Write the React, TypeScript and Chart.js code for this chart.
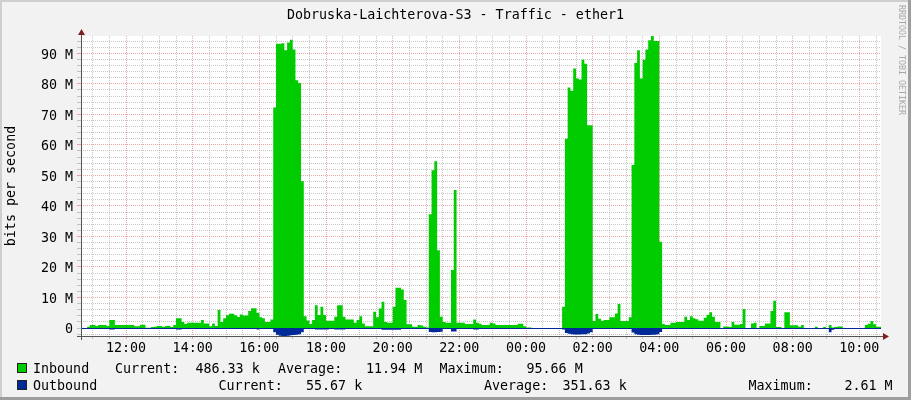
import { useEffect, useRef } from "react";
import { Chart, registerables } from "chart.js";

Chart.register(...registerables);

// ---------- text ----------
const TITLE = "Dobruska-Laichterova-S3 - Traffic - ether1";
const Y_TITLE = "bits per second";
const WATERMARK = "RRDTOOL / TOBI OETIKER";
const SERIES_NAMES = ["Inbound", "Outbound"];
const STAT_LABELS = ["Current:", "Average:", "Maximum:"];
const INBOUND_STATS = ["486.33 k", "11.94 M", "95.66 M"];
const OUTBOUND_STATS = ["55.67 k", "351.63 k", "2.61 M"];

// ---------- time axis (hours; 24 = midnight) ----------
const FIRST_SAMPLE_HOUR = 10 + 40 / 60; // 10:40
const SAMPLE_STEP_HOURS = 5 / 60; // 5-minute samples
const AXIS_MIN_HOUR = 10 + 39 / 60;
const AXIS_MAX_HOUR = AXIS_MIN_HOUR + 24;

// ---------- value axis (M bits/s) ----------
const Y_MIN = -2.61;
const Y_MAX = 95.66;

// Inbound traffic, M bits/s, one value per 5 minutes (12 per row = 1 hour)
const INBOUND_M = [
  0, 0, 0, 0.4, 1.0, 1.0, 0.7, 1.0, 1.0, 1.0, 0.7, 2.6,
  2.6, 1.0, 1.0, 1.0, 1.0, 1.0, 1.0, 1.0, 0.6, 0.6, 1.1, 1.1,
  0.1, 0.1, 0.3, 0.4, 0.7, 0.7, 0.4, 0.7, 0.7, 0.3, 1.0, 3.2,
  3.2, 2.0, 1.3, 1.7, 1.7, 1.7, 1.7, 1.7, 2.6, 1.5, 1.5, 0.6,
  1.5, 0.7, 5.9, 2.0, 3.2, 4.2, 4.7, 4.7, 4.2, 3.6, 4.4, 4.1,
  4.1, 5.6, 6.5, 6.5, 5.0, 3.5, 3.2, 2.0, 2.0, 2.8, 72.2, 93.1,
  93.1, 93.3, 91.0, 93.5, 94.4, 91.2, 81.2, 80.3, 48.1, 3.9, 2.5, 1.3,
  2.6, 7.5, 4.3, 7.0, 4.3, 2.4, 2.4, 2.4, 3.7, 7.5, 7.5, 3.7,
  2.8, 2.8, 2.8, 1.7, 2.6, 3.9, 1.5, 0.6, 0.6, 0.6, 5.3, 3.5,
  6.4, 8.6, 2.0, 1.7, 1.7, 7.0, 13.2, 13.2, 12.6, 9.2, 1.2, 1.2,
  0.4, 0.4, 1.0, 0.8, 0.4, 0.2, 37.3, 51.7, 54.6, 25.5, 3.7, 2.0,
  1.7, 1.7, 19.0, 45.2, 1.7, 1.7, 1.7, 1.3, 1.3, 1.3, 2.8, 1.7,
  1.4, 1.0, 1.0, 1.0, 1.7, 1.5, 1.0, 1.0, 1.0, 1.0, 1.0, 1.0,
  1.0, 1.0, 1.4, 1.4, 0.6, 0.2, 0.2, 0, 0, 0, 0, 0,
  0, 0, 0, 0, 0, 0, 7.0, 62.0, 78.8, 77.7, 85.0, 81.7,
  81.4, 87.9, 86.6, 66.4, 66.4, 2.3, 4.6, 3.0, 2.4, 2.6, 2.6, 3.5,
  3.5, 4.8, 7.9, 2.3, 2.3, 2.3, 3.5, 53.4, 86.8, 91.0, 81.7, 87.9,
  91.2, 94.3, 95.66, 94.0, 94.0, 28.3, 1.3, 1.0, 1.0, 1.7, 1.7, 2.0,
  2.0, 2.0, 3.7, 2.6, 3.9, 3.2, 2.9, 2.4, 2.4, 3.4, 4.3, 5.2,
  3.7, 2.0, 2.0, 0, 0.5, 0.5, 0.3, 2.0, 1.1, 1.1, 1.3, 6.2,
  0, 0, 1.5, 1.7, 0, 0.7, 0.7, 1.5, 1.5, 5.6, 8.9, 0.3,
  0.3, 0, 5.2, 5.2, 0.9, 0.9, 0.9, 0.4, 1.0, 0, 0, 0,
  0, 0.4, 0, 0, 0.3, 0, 1.0, 0.2, 0.3, 0.5, 0.5, 0,
  0, 0, 0, 0, 0, 0, 0, 1.0, 1.4, 2.3, 1.2, 0.4,
];

// Outbound traffic, M bits/s (drawn below zero), one value per 5 minutes
const OUTBOUND_M = [
  0, 0, 0, 0, 0.1, 0.1, 0.1, 0.1, 0.1, 0.1, 0.1, 0.5,
  0.5, 0.1, 0.1, 0.1, 0.1, 0.1, 0.1, 0.1, 0.1, 0.1, 0.1, 0.1,
  0.1, 0.1, 0.1, 0.1, 0.1, 0.1, 0.1, 0.1, 0.1, 0.1, 0.1, 0.5,
  0.5, 0.1, 0.1, 0.1, 0.1, 0.1, 0.1, 0.1, 0.1, 0.1, 0.1, 0.1,
  0.1, 0.1, 0.1, 0.1, 0.1, 0.1, 0.1, 0.1, 0.1, 0.1, 0.1, 0.1,
  0.1, 0.1, 0.1, 0.1, 0.5, 0.1, 0.1, 0.1, 0.1, 0.1, 1.4, 2.2,
  2.5, 2.6, 2.6, 2.5, 2.4, 2.3, 2.2, 2.0, 1.4, 0.2, 0.1, 0.1,
  0.1, 0.5, 0.5, 0.5, 0.5, 0.5, 0.1, 0.1, 0.5, 0.5, 0.5, 0.5,
  0.1, 0.1, 0.1, 0.1, 0.1, 0.1, 0.1, 0.1, 0.1, 0.1, 0.1, 0.1,
  0.1, 0.6, 0.6, 0.6, 0.6, 0.6, 0.6, 0.6, 0.1, 0.1, 0.1, 0.1,
  0.1, 0.1, 0.1, 0.1, 0.1, 0.1, 1.3, 1.4, 1.4, 1.3, 1.2, 0.2,
  0.2, 0.2, 1.1, 1.1, 0.1, 0.1, 0.1, 0.1, 0.1, 0.1, 0.5, 0.5,
  0.1, 0.1, 0.1, 0.1, 0.1, 0.1, 0.1, 0.1, 0.1, 0.1, 0.1, 0.1,
  0.1, 0.1, 0.1, 0.1, 0.1, 0.1, 0.1, 0.05, 0.05, 0.05, 0.05, 0.05,
  0.05, 0.05, 0.05, 0.05, 0.05, 0.05, 0.5, 1.6, 1.9, 2.0, 2.1, 2.1,
  2.1, 2.0, 2.0, 1.8, 1.4, 0.2, 0.2, 0.2, 0.2, 0.2, 0.2, 0.2,
  0.2, 0.2, 0.2, 0.2, 0.2, 0.2, 0.2, 1.5, 2.0, 2.2, 2.3, 2.3,
  2.3, 2.3, 2.2, 2.2, 2.0, 1.3, 0.3, 0.3, 0.3, 0.3, 0.3, 0.1,
  0.1, 0.1, 0.1, 0.1, 0.1, 0.1, 0.1, 0.1, 0.1, 0.1, 0.1, 0.1,
  0.1, 0.1, 0.1, 0.1, 0.1, 0.1, 0.1, 0.1, 0.1, 0.1, 0.1, 0.1,
  0.1, 0.1, 0.1, 0.1, 0.1, 0.1, 0.1, 0.1, 0.1, 0.1, 0.1, 0.1,
  0.1, 0.1, 0.1, 0.1, 0.1, 0.1, 0.1, 0.1, 0.1, 0.1, 0.1, 0.1,
  0.1, 0.1, 0.1, 0.1, 0.1, 0.1, 1.4, 0.6, 0.1, 0.1, 0.1, 0.1,
  0.1, 0.1, 0.1, 0.1, 0.1, 0.1, 0.1, 0.1, 0.1, 0.1, 0.1, 0.1,
];

// ---------- styles ----------
const FONT = "'DejaVu Sans Mono', monospace";
const FONT_SIZE = 13.33;
const BG = "#F2F2F2";
const GREEN = "#00CC00";
const NAVY = "#002A97";
const MINOR_GRID = "rgba(143,143,143,0.5)";
const MAJOR_GRID = "rgba(222,79,79,0.5)";
const AXIS_COLOR = "#555555";
const ARROW_COLOR = "#801F1F";

function toSteps(vals: number[], sign: number) {
  const pts = vals.map((v, i) => ({ x: FIRST_SAMPLE_HOUR + i * SAMPLE_STEP_HOURS, y: sign * v }));
  pts.push({ x: FIRST_SAMPLE_HOUR + vals.length * SAMPLE_STEP_HOURS, y: sign * vals[vals.length - 1] });
  return pts;
}

const isEvenHour = (v: number) => Math.abs(v - Math.round(v)) < 1e-9 && Math.round(v) % 2 === 0;
const hourLabel = (v: number) => String(Math.round(v) % 24).padStart(2, "0") + ":00";

const frame = {
  id: "rrdFrame",
  beforeDraw(chart: any) {
    const { ctx, chartArea } = chart;
    ctx.save();
    ctx.fillStyle = "#FFFFFF";
    ctx.fillRect(chartArea.left, chartArea.top, chartArea.right - chartArea.left, chartArea.bottom - chartArea.top);
    ctx.restore();
  },
  afterDatasetsDraw(chart: any) {
    const { ctx, chartArea } = chart;
    const { left, right, top, bottom } = chartArea;
    const bx = Math.round(left) + 0.5;
    const by = Math.round(bottom) + 0.5;
    ctx.save();
    ctx.strokeStyle = AXIS_COLOR;
    ctx.lineWidth = 1;
    ctx.beginPath();
    ctx.moveTo(left - 4, by);
    ctx.lineTo(right + 3, by);
    ctx.moveTo(bx, bottom + 4);
    ctx.lineTo(bx, top - 2);
    ctx.stroke();
    ctx.fillStyle = ARROW_COLOR;
    ctx.beginPath();
    ctx.moveTo(right + 2, by - 3.5);
    ctx.lineTo(right + 8, by);
    ctx.lineTo(right + 2, by + 3.5);
    ctx.closePath();
    ctx.fill();
    ctx.beginPath();
    ctx.moveTo(bx - 3.5, top - 1);
    ctx.lineTo(bx, top - 7);
    ctx.lineTo(bx + 3.5, top - 1);
    ctx.closePath();
    ctx.fill();
    ctx.restore();
  },
};

const textStyle: any = {
  position: "absolute",
  fontFamily: FONT,
  fontSize: FONT_SIZE,
  lineHeight: FONT_SIZE + "px",
  color: "#000",
  whiteSpace: "pre",
};

const ROW1_X = [33, 115, 195.5, 278, 366, 439.5, 526.5];
const ROW2_X = [33, 218.5, 306, 484, 562.5, 748.5, 844.5];
const ROW_TOPS = [361.5, 378.5];

export default function App() {
  const ref = useRef<HTMLCanvasElement | null>(null);

  useEffect(() => {
    if (!ref.current) return;
    const tickFont = { family: FONT, size: FONT_SIZE };
    const chart = new Chart(ref.current, {
      type: "line",
      data: {
        datasets: [
          {
            label: SERIES_NAMES[0],
            data: toSteps(INBOUND_M, 1),
            stepped: "after",
            fill: "origin",
            backgroundColor: GREEN,
            borderWidth: 0,
            pointRadius: 0,
          },
          {
            label: SERIES_NAMES[1],
            data: toSteps(OUTBOUND_M, -1),
            stepped: "after",
            fill: "origin",
            backgroundColor: NAVY,
            borderWidth: 0,
            pointRadius: 0,
          },
        ],
      },
      options: {
        responsive: false,
        animation: false,
        devicePixelRatio: 1,
        layout: { padding: { top: 36, right: 30, left: 0, bottom: 0 } },
        plugins: {
          legend: { display: false },
          title: { display: false },
          tooltip: { enabled: false },
        },
        scales: {
          x: {
            type: "linear",
            min: AXIS_MIN_HOUR,
            max: AXIS_MAX_HOUR,
            afterBuildTicks: (s: any) => {
              const t: any[] = [];
              for (let v = Math.ceil(s.min * 2) / 2; v < s.max; v += 0.5) t.push({ value: v });
              s.ticks = t;
            },
            afterFit: (s: any) => {
              s.height = 64;
            },
            ticks: {
              autoSkip: false,
              maxRotation: 0,
              padding: 2,
              color: "#000",
              font: tickFont,
              callback: (v: any) => (isEvenHour(Number(v)) ? hourLabel(Number(v)) : ""),
            },
            grid: {
              color: (c: any) => (c.tick && isEvenHour(c.tick.value) ? MAJOR_GRID : MINOR_GRID),
              lineWidth: 1,
              tickLength: 3,
            },
            border: { display: false, dash: [1, 1] },
          },
          y: {
            type: "linear",
            min: Y_MIN,
            max: Y_MAX,
            afterBuildTicks: (s: any) => {
              const t: any[] = [];
              for (let v = Math.ceil(s.min / 2) * 2; v <= s.max; v += 2) t.push({ value: v });
              s.ticks = t;
            },
            afterFit: (s: any) => {
              s.width = 81;
            },
            ticks: {
              autoSkip: false,
              padding: 4,
              labelOffset: 2,
              color: "#000",
              font: tickFont,
              callback: (v: any) => {
                const n = Number(v);
                if (n % 10 !== 0) return "";
                return n === 0 ? "0" : `${n} M`;
              },
            },
            grid: {
              color: (c: any) => {
                if (!c.tick) return MINOR_GRID;
                const v = c.tick.value;
                if (v === 0) return NAVY;
                return v % 10 === 0 ? MAJOR_GRID : MINOR_GRID;
              },
              tickColor: (c: any) => (c.tick && c.tick.value % 10 === 0 && c.tick.value !== 0 ? MAJOR_GRID : MINOR_GRID),
              lineWidth: 1,
              tickLength: 4,
            },
            border: {
              display: false,
              dash: (c: any) => (c.tick && c.tick.value === 0 ? [] : [1, 1]),
            },
            title: {
              display: true,
              text: Y_TITLE,
              color: "#000",
              font: tickFont,
              padding: { top: 4, bottom: 0 },
            },
          },
        },
      } as any,
      plugins: [frame],
    });
    return () => chart.destroy();
  }, []);

  const rows = [
    { name: SERIES_NAMES[0], stats: INBOUND_STATS, color: GREEN, xs: ROW1_X, top: ROW_TOPS[0] },
    { name: SERIES_NAMES[1], stats: OUTBOUND_STATS, color: NAVY, xs: ROW2_X, top: ROW_TOPS[1] },
  ];

  return (
    <div
      style={{
        position: "fixed",
        left: 0,
        top: 0,
        width: 911,
        height: 400,
        background: BG,
        overflow: "hidden",
      }}
    >
      <canvas ref={ref} width={911} height={400} style={{ position: "absolute", left: 0, top: 0 }} />
      <div style={{ ...textStyle, left: 0, top: 7.8, width: 911, textAlign: "center" }}>{TITLE}</div>
      <div
        style={{
          ...textStyle,
          left: 897,
          top: 5,
          fontSize: 8.3,
          lineHeight: "9px",
          color: "#A8A8A8",
          writingMode: "vertical-rl",
        }}
      >
        {WATERMARK}
      </div>
      {rows.map((r, ri) => (
        <div key={ri}>
          <div
            style={{
              position: "absolute",
              left: 17,
              top: r.top + 1.5,
              width: 8,
              height: 8,
              background: r.color,
              border: "1px solid #222",
            }}
          />
          <div style={{ ...textStyle, left: r.xs[0], top: r.top }}>{r.name}</div>
          {STAT_LABELS.map((lab, k) => (
            <div key={k}>
              <div style={{ ...textStyle, left: r.xs[1 + k * 2], top: r.top }}>{lab}</div>
              <div style={{ ...textStyle, left: r.xs[2 + k * 2], top: r.top }}>{r.stats[k]}</div>
            </div>
          ))}
        </div>
      ))}
      <div style={{ position: "absolute", left: 0, top: 0, width: 911, height: 2, background: "#CFCFCF" }} />
      <div style={{ position: "absolute", left: 0, top: 0, width: 2, height: 400, background: "#CFCFCF" }} />
      <div style={{ position: "absolute", left: 908, top: 0, width: 3, height: 400, background: "#9E9E9E" }} />
      <div style={{ position: "absolute", left: 0, top: 397, width: 911, height: 3, background: "#9E9E9E" }} />
    </div>
  );
}
